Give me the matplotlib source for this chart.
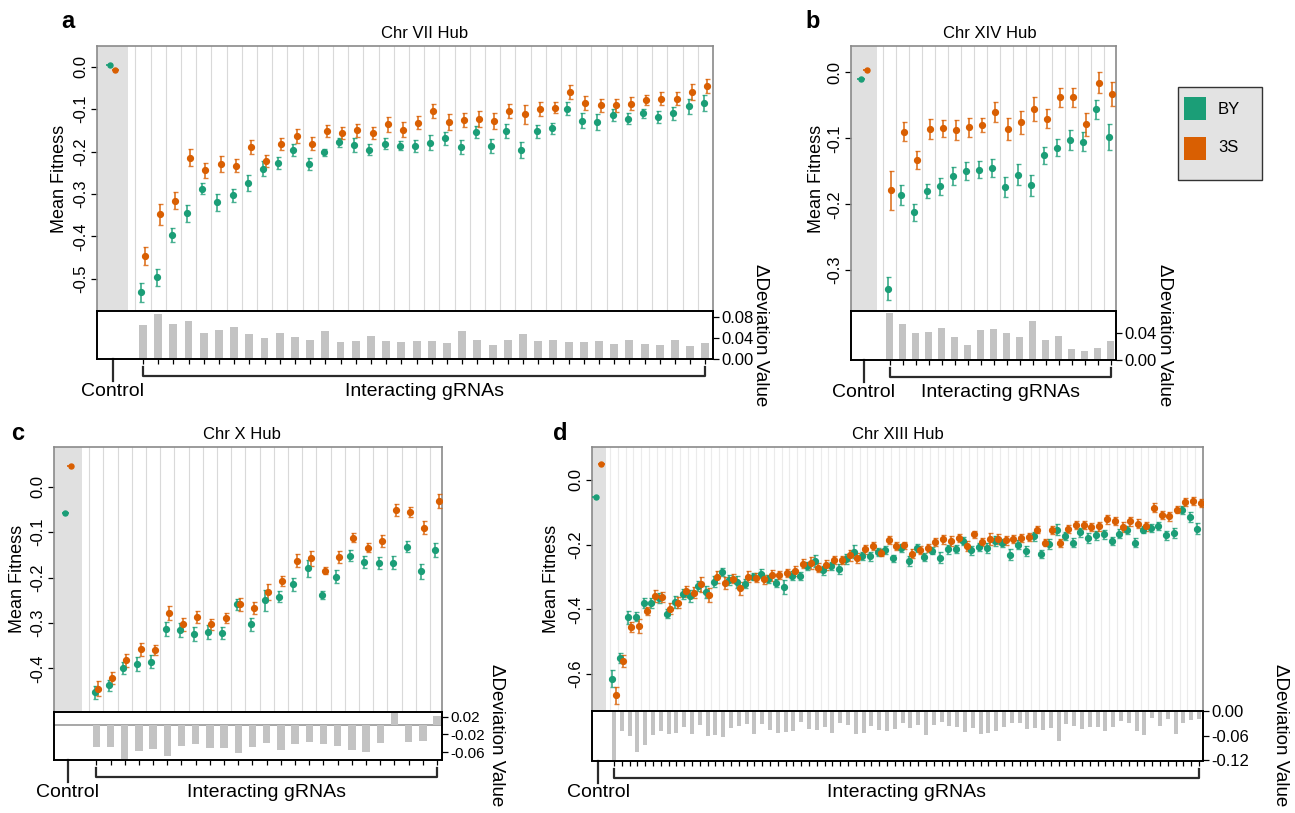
"""
Hub gRNA fitness panels (Chr VII / XIV / X / XIII): mean fitness of BY and 3S
per gRNA with error bars, plus the deviation bars underneath.
"""

import numpy as np
import matplotlib.pyplot as plt
from matplotlib.patches import Rectangle
from matplotlib.colors import to_rgba
from matplotlib.transforms import blended_transform_factory

plt.rcParams['font.family'] = ['Liberation Sans', 'DejaVu Sans']

W, H = 1295, 813
BY_COL = '#1b9e77'
S3_COL = '#d95f02'
BAR_COL = '#c3c3c3'

# ---- panel a: Chr VII Hub (38 interacting gRNAs) ----
a_ctrl_by, a_ctrl_s3 = 0.004, -0.008
a_by = [-0.532, -0.496, -0.397, -0.346, -0.288, -0.320, -0.303, -0.275, -0.240, -0.226,
        -0.196, -0.229, -0.202, -0.178, -0.184, -0.196, -0.182, -0.186, -0.186, -0.179,
        -0.169, -0.189, -0.154, -0.187, -0.152, -0.196, -0.152, -0.145, -0.099, -0.127,
        -0.130, -0.113, -0.123, -0.110, -0.118, -0.110, -0.093, -0.086]
a_s3 = [-0.447, -0.348, -0.316, -0.215, -0.244, -0.229, -0.233, -0.189, -0.222, -0.182,
        -0.163, -0.181, -0.152, -0.157, -0.150, -0.156, -0.136, -0.148, -0.132, -0.104,
        -0.130, -0.126, -0.123, -0.127, -0.104, -0.112, -0.099, -0.097, -0.060, -0.086,
        -0.091, -0.091, -0.087, -0.079, -0.075, -0.075, -0.060, -0.045]
a_by_err = [0.023, 0.020, 0.017, 0.021, 0.013, 0.020, 0.015, 0.019, 0.017, 0.014,
            0.014, 0.015, 0.009, 0.011, 0.016, 0.013, 0.013, 0.011, 0.014, 0.017,
            0.016, 0.016, 0.015, 0.016, 0.016, 0.018, 0.015, 0.013, 0.015, 0.017,
            0.018, 0.014, 0.013, 0.011, 0.014, 0.015, 0.018, 0.019]
a_s3_err = [0.021, 0.024, 0.020, 0.020, 0.018, 0.019, 0.016, 0.017, 0.015, 0.015,
            0.016, 0.016, 0.014, 0.014, 0.016, 0.014, 0.017, 0.017, 0.015, 0.017,
            0.018, 0.017, 0.018, 0.019, 0.016, 0.022, 0.016, 0.013, 0.017, 0.016,
            0.016, 0.016, 0.015, 0.012, 0.016, 0.016, 0.019, 0.016]
a_delta = [0.065, 0.086, 0.066, 0.072, 0.049, 0.055, 0.060, 0.047, 0.040, 0.049,
           0.041, 0.036, 0.053, 0.032, 0.035, 0.044, 0.035, 0.033, 0.034, 0.035,
           0.031, 0.053, 0.037, 0.0275, 0.037, 0.047, 0.035, 0.037, 0.032, 0.032,
           0.035, 0.029, 0.037, 0.029, 0.0275, 0.037, 0.0245, 0.031]

# ---- panel b: Chr XIV Hub (18) ----
b_ctrl_by, b_ctrl_s3 = -0.010, 0.004
b_by = [-0.328, -0.186, -0.212, -0.180, -0.173, -0.157, -0.150, -0.148, -0.145, -0.174,
        -0.155, -0.171, -0.126, -0.114, -0.103, -0.105, -0.056, -0.098]
b_s3 = [-0.179, -0.090, -0.133, -0.086, -0.085, -0.088, -0.083, -0.080, -0.060, -0.086,
        -0.076, -0.056, -0.070, -0.038, -0.038, -0.079, -0.016, -0.033]
b_by_err = [0.017, 0.015, 0.013, 0.011, 0.0125, 0.014, 0.014, 0.013, 0.014, 0.0155,
            0.016, 0.016, 0.013, 0.013, 0.015, 0.014, 0.014, 0.020]
b_s3_err = [0.030, 0.0145, 0.013, 0.015, 0.013, 0.015, 0.0145, 0.011, 0.015, 0.017,
            0.018, 0.018, 0.014, 0.014, 0.015, 0.018, 0.016, 0.018]
b_delta = [0.070, 0.054, 0.040, 0.041, 0.048, 0.035, 0.022, 0.045, 0.046, 0.040,
           0.035, 0.058, 0.030, 0.036, 0.016, 0.014, 0.018, 0.029]

# ---- panel c: Chr X Hub (25) ----
c_ctrl_by, c_ctrl_s3 = -0.059, 0.045
c_by = [-0.452, -0.437, -0.399, -0.390, -0.385, -0.313, -0.315, -0.324, -0.320, -0.322,
        -0.259, -0.303, -0.250, -0.242, -0.215, -0.180, -0.239, -0.198, -0.152, -0.165,
        -0.168, -0.167, -0.132, -0.186, -0.139]
c_s3 = [-0.445, -0.421, -0.382, -0.358, -0.360, -0.278, -0.303, -0.286, -0.303, -0.289,
        -0.259, -0.267, -0.232, -0.207, -0.163, -0.158, -0.185, -0.155, -0.112, -0.134,
        -0.119, -0.051, -0.056, -0.090, -0.032]
c_by_err = [0.014, 0.012, 0.0135, 0.015, 0.0147, 0.015, 0.015, 0.015, 0.0147, 0.0135,
            0.012, 0.0143, 0.023, 0.0125, 0.014, 0.018, 0.0088, 0.0135, 0.012, 0.013,
            0.0135, 0.0135, 0.0128, 0.0165, 0.0154]
c_s3_err = [0.0165, 0.0135, 0.0147, 0.014, 0.011, 0.016, 0.0135, 0.013, 0.0125, 0.011,
            0.014, 0.014, 0.017, 0.0106, 0.0143, 0.0157, 0.0073, 0.013, 0.010, 0.0095,
            0.0128, 0.0128, 0.012, 0.0143, 0.0157]
c_delta = [-0.048, -0.048, -0.075, -0.057, -0.053, -0.068, -0.046, -0.041, -0.050, -0.050,
           -0.062, -0.049, -0.039, -0.055, -0.042, -0.037, -0.043, -0.046, -0.055, -0.059,
           -0.040, 0.028, -0.037, -0.034, 0.0215]

# ---- panel d: Chr XIII Hub (76) ----
d_ctrl_by, d_ctrl_s3 = -0.052, 0.049
d_by = [-0.614, -0.550, -0.425, -0.423, -0.381, -0.380, -0.364, -0.414, -0.379, -0.354,
        -0.359, -0.329, -0.347, -0.315, -0.285, -0.309, -0.315, -0.321, -0.299, -0.290,
        -0.307, -0.319, -0.332, -0.296, -0.298, -0.267, -0.251, -0.280, -0.267, -0.276,
        -0.244, -0.223, -0.235, -0.236, -0.223, -0.216, -0.243, -0.210, -0.251, -0.211,
        -0.239, -0.219, -0.241, -0.215, -0.214, -0.190, -0.218, -0.207, -0.211, -0.190,
        -0.195, -0.231, -0.200, -0.220, -0.175, -0.230, -0.198, -0.154, -0.173, -0.194,
        -0.162, -0.179, -0.172, -0.169, -0.188, -0.167, -0.156, -0.195, -0.154, -0.149,
        -0.142, -0.172, -0.165, -0.094, -0.114, -0.151]
d_s3 = [-0.666, -0.560, -0.455, -0.452, -0.406, -0.358, -0.362, -0.398, -0.380, -0.345,
        -0.349, -0.323, -0.356, -0.301, -0.319, -0.305, -0.335, -0.299, -0.302, -0.307,
        -0.295, -0.294, -0.288, -0.282, -0.259, -0.257, -0.271, -0.263, -0.248, -0.248,
        -0.233, -0.242, -0.215, -0.205, -0.225, -0.186, -0.205, -0.203, -0.229, -0.218,
        -0.211, -0.192, -0.184, -0.189, -0.181, -0.204, -0.169, -0.192, -0.184, -0.183,
        -0.187, -0.184, -0.181, -0.177, -0.154, -0.194, -0.156, -0.195, -0.151, -0.139,
        -0.139, -0.145, -0.143, -0.122, -0.128, -0.146, -0.128, -0.136, -0.144, -0.086,
        -0.109, -0.113, -0.093, -0.068, -0.065, -0.073]
d_by_err = [0.026, 0.015, 0.020, 0.014, 0.0145, 0.0155, 0.0155, 0.014, 0.0185, 0.0155,
            0.0195, 0.0155, 0.0175, 0.0165, 0.013, 0.0145, 0.0185, 0.0145, 0.012, 0.014,
            0.013, 0.012, 0.022, 0.013, 0.012, 0.013, 0.018, 0.014, 0.012, 0.015,
            0.016, 0.020, 0.013, 0.014, 0.013, 0.012, 0.012, 0.013, 0.016, 0.012,
            0.013, 0.011, 0.017, 0.014, 0.012, 0.012, 0.013, 0.013, 0.015, 0.016,
            0.013, 0.016, 0.014, 0.015, 0.014, 0.012, 0.016, 0.016, 0.013, 0.014,
            0.014, 0.015, 0.013, 0.014, 0.012, 0.014, 0.013, 0.014, 0.012, 0.012,
            0.012, 0.015, 0.016, 0.012, 0.015, 0.016]
d_s3_err = [0.026, 0.0195, 0.015, 0.022, 0.013, 0.019, 0.015, 0.018, 0.017, 0.0175,
            0.017, 0.024, 0.022, 0.018, 0.0175, 0.0145, 0.0205, 0.0165, 0.014, 0.014,
            0.017, 0.013, 0.012, 0.016, 0.014, 0.018, 0.015, 0.016, 0.013, 0.013,
            0.017, 0.016, 0.013, 0.012, 0.012, 0.013, 0.012, 0.012, 0.014, 0.012,
            0.013, 0.012, 0.013, 0.015, 0.012, 0.016, 0.012, 0.013, 0.018, 0.014,
            0.013, 0.012, 0.012, 0.013, 0.012, 0.011, 0.012, 0.013, 0.012, 0.012,
            0.012, 0.012, 0.014, 0.014, 0.012, 0.014, 0.014, 0.014, 0.013, 0.013,
            0.012, 0.013, 0.011, 0.013, 0.012, 0.012]
d_delta = [-0.120, -0.048, -0.060, -0.100, -0.082, -0.058, -0.048, -0.056, -0.053, -0.038,
           -0.056, -0.033, -0.060, -0.058, -0.063, -0.040, -0.036, -0.032, -0.055, -0.031,
           -0.046, -0.053, -0.051, -0.048, -0.026, -0.043, -0.046, -0.038, -0.053, -0.029,
           -0.033, -0.056, -0.053, -0.036, -0.047, -0.048, -0.043, -0.029, -0.041, -0.034,
           -0.058, -0.033, -0.026, -0.036, -0.038, -0.051, -0.041, -0.055, -0.053, -0.048,
           -0.038, -0.029, -0.029, -0.043, -0.041, -0.046, -0.041, -0.073, -0.031, -0.037,
           -0.043, -0.038, -0.038, -0.048, -0.038, -0.024, -0.029, -0.048, -0.058, -0.016,
           -0.036, -0.019, -0.056, -0.029, -0.021, -0.020]

fig = plt.figure(figsize=(W / 100, H / 100), dpi=100)


def rect(l, t, r, b):
    # pixel box (top-left origin) -> figure fraction
    return [l / W, 1 - b / H, (r - l) / W, (b - t) / H]


def ftext(x, y, s, **kw):
    fig.text(x / W, 1 - y / H, s, ha='center', va='center', **kw)


def draw_panel(box, bar_bottom, by, s3, by_err, s3_err, ctrl, delta,
               ylim, yticks, bar_ylim, bar_ticks, bar_labels, xlim,
               title, title_x, letter, letter_xy, ylab_x, dlab_xy,
               grid_col='#d9d9d9', zero_line=False, bar_fs=12):
    l, t, r, b = box
    ax = fig.add_axes(rect(l, t, r, b))
    axb = fig.add_axes(rect(l, b, r, bar_bottom))
    n = len(by)
    xs = np.arange(1, n + 1)
    ppu = (r - l) / (xlim[1] - xlim[0])   # pixels per category
    dd, cd, ch = 1.6 / ppu, 2.8 / ppu, 3.6 / ppu

    ax.set_xlim(*xlim)
    ax.set_ylim(*ylim)
    ax.axvspan(xlim[0], 0, color='#e0e0e0', lw=0, zorder=0)
    for k in xs:
        ax.axvline(k - 0.5, color=grid_col, lw=0.8, zorder=1)

    for xx, m, e, col in [(xs - dd, by, by_err, BY_COL), (xs + dd, s3, s3_err, S3_COL)]:
        ax.errorbar(xx, m, yerr=e, fmt='o', ms=4.2, color=col, mec=col,
                    ecolor=to_rgba(col, 0.8), elinewidth=1.3, capsize=1.8,
                    capthick=1.0, zorder=3)
    ax.errorbar([-1 - cd], [ctrl[0]], xerr=[ch], fmt='o', ms=3.6, color=BY_COL,
                elinewidth=1.2, capsize=0, zorder=3)
    ax.errorbar([-1 + cd], [ctrl[1]], xerr=[ch], fmt='o', ms=3.6, color=S3_COL,
                elinewidth=1.2, capsize=0, zorder=3)

    ax.set_xticks([])
    ax.set_yticks(yticks)
    ax.set_yticklabels([f'{v:.1f}' for v in yticks])
    ax.tick_params(axis='y', length=4, width=0.9, pad=2, labelsize=12)
    for lab in ax.get_yticklabels():
        lab.set_rotation(90)
        lab.set_va('center')
    for side in ['left', 'top', 'right']:
        ax.spines[side].set_color('#8a8a8a')
        ax.spines[side].set_linewidth(1.2)
    ax.spines['bottom'].set_visible(False)

    # deviation bars
    axb.bar(xs, delta, width=0.52, color=BAR_COL, zorder=2)
    if zero_line:
        axb.axhline(0, color='#8f8f8f', lw=1.1, zorder=1)
    axb.set_xlim(*xlim)
    axb.set_ylim(*bar_ylim)
    axb.set_xticks(xs)
    axb.tick_params(axis='x', length=3.5, width=0.9, labelbottom=False)
    axb.yaxis.tick_right()
    axb.set_yticks(bar_ticks)
    axb.set_yticklabels(bar_labels)
    axb.tick_params(axis='y', length=4, width=0.9, pad=2, labelsize=bar_fs)
    for sp in axb.spines.values():
        sp.set_color('black')
        sp.set_linewidth(1.4)

    # control tick + interacting bracket below the bars
    hpx = bar_bottom - b
    tr = blended_transform_factory(axb.transData, axb.transAxes)
    yy = lambda d: -d / hpx
    axb.plot([-1, -1], [0, yy(22)], color='#2b2b2b', lw=1.6, transform=tr, clip_on=False)
    axb.plot([1, 1, n, n], [yy(8), yy(17), yy(17), yy(8)], color='#2b2b2b', lw=1.6,
             transform=tr, clip_on=False)
    axb.text(-1, yy(32), 'Control', ha='center', va='center', fontsize=14, transform=tr)
    axb.text((1 + n) / 2, yy(32), 'Interacting gRNAs', ha='center', va='center',
             fontsize=14, transform=tr)

    ftext(title_x, t - 13, title, fontsize=12)
    ftext(letter_xy[0], letter_xy[1], letter, fontsize=17, fontweight='bold')
    ftext(ylab_x, (t + b) / 2, 'Mean Fitness', fontsize=13, rotation=90)
    ftext(dlab_xy[0], dlab_xy[1], '\u0394Deviation Value', fontsize=13.5, rotation=270)


draw_panel((97, 46, 713, 311), 359, a_by, a_s3, a_by_err, a_s3_err, (a_ctrl_by, a_ctrl_s3),
           a_delta, (-0.576, 0.049), [0.0, -0.1, -0.2, -0.3, -0.4, -0.5],
           (0, 0.0914), [0.08, 0.04, 0.0], ['0.08', '0.04', '0.00'], (-2.02, 38.5),
           'Chr VII Hub', 425, 'a', (68, 22), 60, (760, 335))

draw_panel((850.7, 46, 1116, 311), 360, b_by, b_s3, b_by_err, b_s3_err, (b_ctrl_by, b_ctrl_s3),
           b_delta, (-0.362, 0.040), [0.0, -0.1, -0.2, -0.3],
           (0, 0.073), [0.04, 0.0], ['0.04', '0.00'], (-2.0, 18.4),
           'Chr XIV Hub', 990, 'b', (813, 22), 816, (1165, 335))

draw_panel((54, 447, 442.3, 711.7), 760, c_by, c_s3, c_by_err, c_s3_err, (c_ctrl_by, c_ctrl_s3),
           c_delta, (-0.495, 0.087), [0.0, -0.1, -0.2, -0.3, -0.4],
           (-0.078, 0.031), [0.02, -0.02, -0.06], ['0.02', '-0.02', '-0.06'], (-1.98, 25.37),
           'Chr X Hub', 242, 'c', (18, 433), 18, (496, 735), zero_line=True, bar_fs=11)

draw_panel((591.7, 447, 1203.3, 711), 760.5, d_by, d_s3, d_by_err, d_s3_err, (d_ctrl_by, d_ctrl_s3),
           d_delta, (-0.714, 0.101), [0.0, -0.2, -0.4, -0.6],
           (-0.1216, 0.001), [0.0, -0.06, -0.12], ['0.00', '-0.06', '-0.12'], (-1.85, 76.55),
           'Chr XIII Hub', 898, 'd', (560, 433), 552, (1280, 735), grid_col='#ebebeb')


# legend box drawn by hand
def px_rect(l, t, r, b, **kw):
    fig.add_artist(Rectangle((l / W, 1 - b / H), (r - l) / W, (b - t) / H,
                             transform=fig.transFigure, **kw))


px_rect(1178, 87, 1262, 180, facecolor='#e3e3e3', edgecolor='#333333', lw=1)
px_rect(1184, 97, 1206, 120, facecolor=BY_COL, edgecolor='none')
px_rect(1184, 137, 1206, 160, facecolor=S3_COL, edgecolor='none')
fig.text(1218 / W, 1 - 109 / H, 'BY', ha='left', va='center', fontsize=12)
fig.text(1218 / W, 1 - 148 / H, '3S', ha='left', va='center', fontsize=12)

fig.savefig('out.png', dpi=100)
